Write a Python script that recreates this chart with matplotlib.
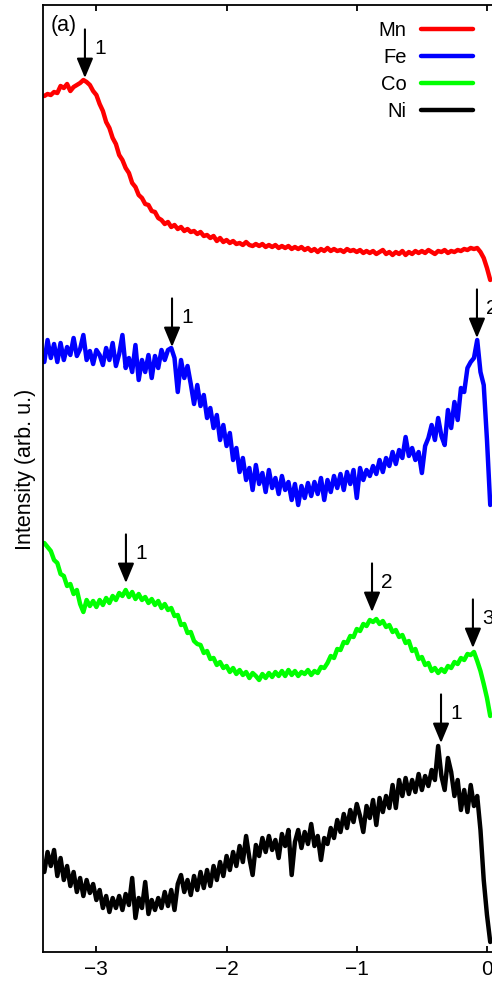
import numpy as np
import matplotlib
matplotlib.use("Agg")
import matplotlib.pyplot as plt

plt.rcParams['font.family'] = ['Liberation Sans', 'DejaVu Sans']

# Energy grid (eV), uniform sampling of the spectra
energy = np.linspace(-3.4, 0.025, 138)

# Intensities (arb. u., curves stacked with vertical offsets already included)
mn = [856, 858, 857, 860, 859, 866, 864, 868, 861, 865,
      867, 869, 872, 870, 867, 861, 857, 848, 841, 830,
      824, 814, 808, 797, 792, 784, 779, 769, 765, 757,
      754, 748, 747, 741, 740, 734, 732, 728, 730, 725,
      727, 723, 725, 721, 723, 720, 721, 718, 720, 716,
      717, 714, 716, 711, 714, 710, 712, 709, 711, 708,
      709, 707, 710, 707, 706, 708, 706, 708, 705, 707,
      705, 707, 704, 706, 704, 706, 703, 705, 703, 705,
      702, 704, 701, 703, 700, 703, 701, 704, 701, 703,
      701, 702, 700, 703, 701, 702, 700, 702, 699, 701,
      699, 701, 698, 700, 702, 698, 700, 697, 700, 698,
      701, 697, 700, 698, 701, 699, 701, 699, 702, 700,
      698, 701, 700, 702, 699, 701, 700, 702, 701, 703,
      702, 704, 703, 704, 700, 694, 684, 672]

fe = [590, 612, 594, 608, 590, 609, 592, 605, 597, 614,
      596, 603, 617, 592, 601, 588, 602, 597, 587, 604,
      592, 609, 586, 598, 617, 584, 594, 580, 607, 572,
      592, 580, 597, 574, 596, 584, 602, 592, 602, 604,
      594, 560, 592, 574, 586, 568, 548, 567, 546, 557,
      534, 544, 524, 537, 512, 527, 506, 519, 492, 504,
      480, 494, 472, 484, 462, 487, 468, 479, 460, 482,
      464, 474, 458, 476, 462, 470, 452, 468, 447, 466,
      454, 469, 456, 470, 458, 474, 452, 472, 460, 476,
      464, 478, 462, 480, 468, 482, 454, 484, 472, 482,
      476, 486, 478, 492, 480, 494, 486, 500, 488, 502,
      494, 515, 496, 504, 492, 500, 479, 506, 514, 527,
      512, 534, 516, 507, 542, 524, 550, 532, 564, 560,
      584, 590, 594, 612, 580, 567, 512, 447]

co = [409, 405, 401, 392, 389, 378, 376, 366, 368, 358,
      362, 348, 340, 352, 346, 351, 345, 352, 347, 354,
      349, 356, 352, 359, 356, 362, 355, 360, 353, 358,
      352, 355, 349, 353, 347, 351, 344, 348, 342, 344,
      336, 337, 327, 328, 319, 320, 311, 308, 307, 299,
      301, 293, 294, 287, 290, 284, 286, 280, 284, 278,
      282, 277, 280, 274, 279, 276, 272, 278, 274, 279,
      275, 280, 276, 281, 276, 282, 277, 281, 276, 280,
      278, 282, 277, 281, 279, 285, 284, 289, 296, 294,
      303, 302, 310, 309, 316, 315, 323, 321, 328, 326,
      332, 330, 333, 328, 331, 325, 327, 320, 322, 315,
      317, 309, 311, 301, 303, 293, 295, 287, 289, 281,
      284, 279, 283, 280, 286, 284, 290, 288, 294, 292,
      298, 297, 300, 291, 281, 268, 254, 236]

ni = [80, 100, 86, 102, 76, 94, 72, 86, 66, 80,
      60, 74, 56, 72, 59, 68, 52, 62, 44, 56,
      40, 54, 44, 56, 42, 58, 47, 74, 34, 54,
      44, 70, 38, 52, 42, 54, 44, 60, 46, 62,
      42, 68, 77, 60, 72, 57, 76, 62, 80, 64,
      82, 66, 86, 72, 90, 76, 96, 82, 100, 86,
      106, 90, 116, 94, 77, 107, 96, 114, 100, 116,
      102, 112, 94, 118, 106, 122, 77, 110, 122, 104,
      120, 108, 128, 106, 116, 92, 114, 108, 124, 114,
      132, 120, 138, 124, 142, 130, 148, 136, 120, 146,
      134, 152, 127, 154, 140, 156, 144, 167, 144, 172,
      156, 174, 158, 172, 160, 178, 162, 176, 166, 182,
      172, 206, 176, 162, 194, 180, 156, 172, 142, 162,
      140, 167, 146, 156, 122, 72, 37, 10]

series_names = ['Mn', 'Fe', 'Co', 'Ni']
series_values = [mn, fe, co, ni]
series_colors = ['#ff0000', '#0000ff', '#00ff00', '#000000']

# Peak markers: (energy, intensity at arrow tip, label)
peak_energy = [-3.088, -2.419, -0.077, -2.773, -0.883, -0.108, -0.353]
peak_intensity = [874, 605, 614, 369, 340, 304, 209]
peak_labels = ['1', '1', '2', '1', '2', '3', '1']

xtick_vals = [-3, -2, -1, 0]
xtick_labels = ['\u22123', '\u22122', '\u22121', '0']

fig = plt.figure(figsize=(4.92, 9.9), dpi=100)
ax = fig.add_axes([43 / 492, 38 / 990, 457 / 492, 947 / 990])

for name, vals, col in zip(series_names, series_values, series_colors):
    ax.plot(energy, vals, color=col, lw=3.2, label=name,
            solid_joinstyle='round', solid_capstyle='round')

for px, py, lbl in zip(peak_energy, peak_intensity, peak_labels):
    ax.annotate('', xy=(px, py), xytext=(0, 35), textcoords='offset points',
                arrowprops=dict(arrowstyle='-|>,head_length=1.2,head_width=0.5',
                                mutation_scale=10, lw=1.5, color='black',
                                fc='black', shrinkA=0, shrinkB=0))
    ax.annotate(lbl, xy=(px, py), xytext=(6.5, 21), textcoords='offset points',
                ha='left', va='center', fontsize=15)

ax.set_xlim(-3.41, 0.1)
ax.set_ylim(0, 947)
ax.set_xticks(xtick_vals)
ax.set_xticklabels(xtick_labels)
ax.set_yticks([])
ax.tick_params(axis='x', direction='in', top=True, bottom=True,
               length=4.5, width=1.3, labelsize=15, pad=6)
for sp in ax.spines.values():
    sp.set_linewidth(1.3)

fig.text(26 / 492, 1 - 469 / 990, 'Intensity (arb. u.)', rotation=90,
         ha='center', va='center', fontsize=15.5)
fig.text(51 / 492, 1 - 26 / 990, '(a)', ha='left', va='center', fontsize=15.5)

leg = ax.legend(loc='upper right', bbox_to_anchor=(473 / 492, 1 - 21 / 990),
                bbox_transform=fig.transFigure, frameon=False, markerfirst=False,
                fontsize=14.5, handlelength=2.6, handletextpad=0.7,
                labelspacing=0.40, borderpad=0, borderaxespad=0)

fig.savefig('out.png', dpi=100)
